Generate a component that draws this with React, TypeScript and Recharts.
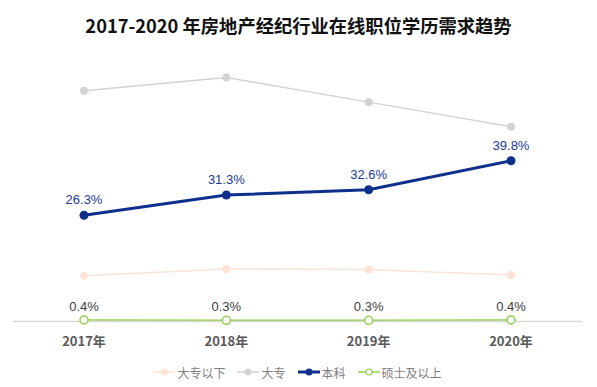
import { CartesianGrid, LabelList, Legend, Line, LineChart, XAxis, YAxis } from "recharts";

const YEARS = ["2017年", "2018年", "2019年", "2020年"];
const BELOW_COLLEGE = [11.3, 13.0, 12.9, 11.5];
const COLLEGE = [57.1, 60.4, 54.3, 48.2];
const BACHELOR = [26.3, 31.3, 32.6, 39.8];
const MASTER_PLUS = [0.4, 0.3, 0.3, 0.4];

const SERIES = [
  { key: "below", name: "大专以下", color: "#fbe3d5", width: 1.5, hollow: false },
  { key: "college", name: "大专", color: "#d3d3d3", width: 1.5, hollow: false },
  { key: "bachelor", name: "本科", color: "#0f2f8c", width: 3, hollow: false },
  { key: "master", name: "硕士及以上", color: "#92d050", width: 1.5, hollow: true },
];

const data = YEARS.map((year, i) => ({
  year,
  below: BELOW_COLLEGE[i],
  college: COLLEGE[i],
  bachelor: BACHELOR[i],
  master: MASTER_PLUS[i],
}));

const CJK = '"Noto Sans CJK SC", "Noto Sans", sans-serif';
const LATIN = '"Liberation Sans", Arial, "Noto Sans CJK SC", sans-serif';

const pct = (v: unknown) => `${v}%`;

function LegendContent() {
  return (
    <div
      style={{
        display: "flex",
        justifyContent: "center",
        alignItems: "center",
        gap: 12,
        fontFamily: CJK,
        fontSize: 12,
        color: "#7f7f7f",
        height: 22,
      }}
    >
      {SERIES.map((s) => (
        <div key={s.key} style={{ display: "flex", alignItems: "center", gap: 2 }}>
          <svg width={22} height={10}>
            <line x1={0} x2={22} y1={5} y2={5} stroke={s.color} strokeWidth={s.width} />
            <circle
              cx={11}
              cy={5}
              r={3}
              fill={s.hollow ? "#fff" : s.color}
              stroke={s.color}
              strokeWidth={1.2}
            />
          </svg>
          <span>{s.name}</span>
        </div>
      ))}
    </div>
  );
}

export default function App() {
  return (
    <div
      style={{
        position: "absolute",
        left: 0,
        top: 0,
        width: 597,
        height: 387,
        background: "#fff",
      }}
    >
      <div
        style={{
          position: "absolute",
          top: 13,
          left: 0,
          width: 597,
          textAlign: "center",
          fontFamily: CJK,
          fontWeight: 700,
          fontSize: 18.3,
          lineHeight: "24px",
          color: "#111",
        }}
      >
        2017-2020 年房地产经纪行业在线职位学历需求趋势
      </div>
      <LineChart
        width={597}
        height={387}
        data={data}
        margin={{ top: 38.7, right: 15, bottom: 4, left: 13 }}
      >
        <CartesianGrid stroke="none" />
        <XAxis
          dataKey="year"
          padding={{ left: 71, right: 71 }}
          axisLine={{ stroke: "#d9d9d9", strokeWidth: 1.5 }}
          tickLine={false}
          tickSize={6}
          tickMargin={9}
          height={39.5}
          tick={{ fill: "#595959", fontSize: 13, fontWeight: 700, fontFamily: CJK }}
        />
        <YAxis hide domain={[0, 70]} />
        <Legend verticalAlign="bottom" height={22} content={<LegendContent />} />
        {SERIES.map((s) => (
          <Line
            key={s.key}
            dataKey={s.key}
            name={s.name}
            stroke={s.color}
            strokeWidth={s.width}
            isAnimationActive={false}
            dot={{
              r: s.key === "bachelor" ? 4.5 : 4,
              fill: s.hollow ? "#fff" : s.color,
              stroke: s.color,
              strokeWidth: s.hollow ? 1.5 : 0,
            }}
            activeDot={false}
          >
            {s.key === "bachelor" && (
              <LabelList
                dataKey={s.key}
                position="top"
                offset={11}
                formatter={pct}
                style={{ fill: "#1b3a94", fontSize: 13, fontFamily: LATIN }}
              />
            )}
            {s.key === "master" && (
              <LabelList
                dataKey={s.key}
                position="top"
                offset={9}
                formatter={pct}
                style={{ fill: "#404040", fontSize: 13, fontFamily: LATIN }}
              />
            )}
          </Line>
        ))}
      </LineChart>
    </div>
  );
}
